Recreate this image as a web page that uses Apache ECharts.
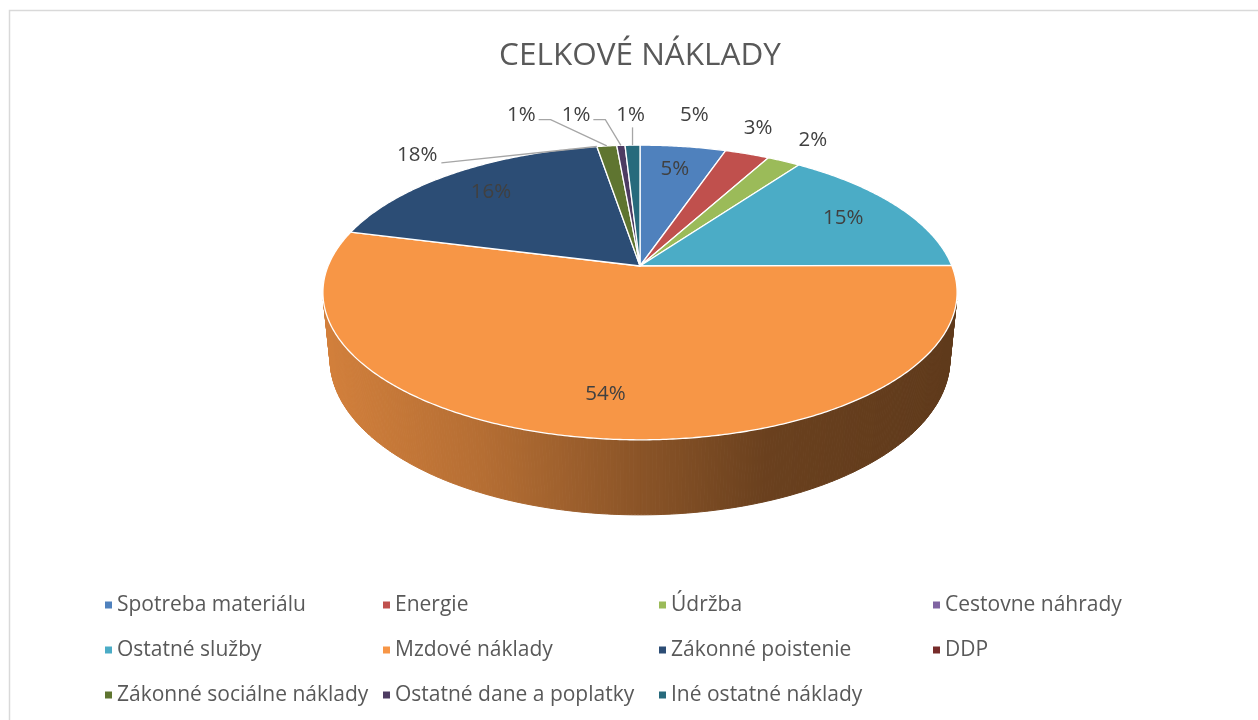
<!DOCTYPE html>
<html>
<head>
<meta charset="utf-8">
<script src="https://cdn.jsdelivr.net/npm/echarts@6/dist/echarts.min.js"></script>
<style>
html,body{margin:0;padding:0;background:#fff;}
#chart{width:1258px;height:720px;}
</style>
</head>
<body>
<div id="chart"></div>
<script>
// ---- data ----
const title = 'CELKOVÉ NÁKLADY';
const categories = ['Spotreba materiálu', 'Energie', 'Údržba', 'Cestovne náhrady', 'Ostatné služby',
  'Mzdové náklady', 'Zákonné poistenie', 'DDP', 'Zákonné sociálne náklady', 'Ostatné dane a poplatky', 'Iné ostatné náklady'];
const values = [5.2, 2.7, 2.0, 0, 15.0, 54.0, 18.4, 0, 1.2, 0.5, 0.9];
const insideLabels = ['5%', '', '', '', '15%', '54%', '16%', '', '', '', ''];
const outsideLabels = ['5%', '3%', '2%', '', '', '', '18%', '', '1%', '1%', '1%'];
const colors = ['#4F81BD', '#C0504D', '#9BBB59', '#8064A2', '#4BACC6', '#F79646',
  '#2C4D75', '#772C2A', '#5F7530', '#4D3B62', '#276A7C'];

// ---- 3D projection setup ----
const FONT = '"Open Sans", Lato, sans-serif';
const CX = 640, CY = 266, FOC = 1544, DIST = 4.95, THICK = 0.242;
const TILT = 27.2 * Math.PI / 180;
const S = Math.sin(TILT), C = Math.cos(TILT);
function proj(theta, yh, r) {
  const x = r * Math.sin(theta), z = r * Math.cos(theta);
  const yp = yh * C + z * S;
  const zp = z * C - yh * S + DIST;
  return [CX + FOC * x / zp, CY - FOC * yp / zp];
}
const total = values.reduce((a, b) => a + b, 0);
const startAngle = [];
let acc = 0;
values.forEach(v => { startAngle.push(acc / total * Math.PI * 2); acc += v; });
const endAngle = values.map((v, i) => startAngle[i] + v / total * Math.PI * 2);
const midAngle = values.map((v, i) => (startAngle[i] + endAngle[i]) / 2);

function hexToRgb(h) { return [parseInt(h.substr(1, 2), 16), parseInt(h.substr(3, 2), 16), parseInt(h.substr(5, 2), 16)]; }
function shadeK(u) {
  const pts = [[-1.05, 0.86], [-0.5, 0.73], [0, 0.56], [0.4, 0.43], [1.05, 0.38]];
  if (u <= pts[0][0]) return pts[0][1];
  for (let i = 1; i < pts.length; i++) {
    if (u <= pts[i][0]) {
      const t = (u - pts[i - 1][0]) / (pts[i][0] - pts[i - 1][0]);
      return pts[i - 1][1] + t * (pts[i][1] - pts[i - 1][1]);
    }
  }
  return pts[pts.length - 1][1];
}
function shade(hex, k) {
  const c = hexToRgb(hex).map(v => Math.round(v * k));
  return 'rgb(' + c.join(',') + ')';
}

// ---- label layout ----
const LBL_SIZE = 20.5, LBL_H = 22, GAP = 26;
const mctx = document.createElement('canvas').getContext('2d');
mctx.font = LBL_SIZE + 'px ' + FONT;
function textW(t) { return mctx.measureText(t).width; }

const outside = [];
outsideLabels.forEach((t, i) => {
  if (!t) return;
  const E = proj(midAngle[i], 0, 1);
  const dx = E[0] - CX, dy = E[1] - CY;
  const len = Math.sqrt(dx * dx + dy * dy);
  const ux = dx / len, uy = dy / len;
  const w = textW(t);
  const d = 18 + Math.abs(ux) * w / 2 + Math.abs(uy) * LBL_H / 2;
  outside.push({ i, t, w, x: E[0] + ux * d, y: E[1] + uy * d, E });
});
outside.sort((a, b) => a.x - b.x);
for (let j = outside.length - 2; j >= 0; j--) {
  const cur = outside[j], right = outside[j + 1];
  if (Math.abs(cur.y - right.y) < LBL_H) {
    const maxX = right.x - right.w / 2 - GAP - cur.w / 2;
    if (cur.x > maxX) cur.x = maxX;
  }
}
const outsideByIndex = {};
outside.forEach(o => { outsideByIndex[o.i] = o; });

// ---- render functions ----
function renderWall(params) {
  const i = params.dataIndex;
  if (!values[i]) return null;
  const a0 = startAngle[i], a1 = endAngle[i];
  const n = Math.max(2, Math.ceil((a1 - a0) / (Math.PI / 360)));
  const children = [];
  const limit = -1 / (DIST * C);
  for (let k = 0; k < n; k++) {
    const a = a0 + (a1 - a0) * k / n, b = a0 + (a1 - a0) * (k + 1) / n, m = (a + b) / 2;
    if (Math.cos(m) >= limit) continue;
    const pts = [proj(a, 0, 1), proj(b, 0, 1), proj(b, -THICK, 1), proj(a, -THICK, 1)];
    const u = (proj(m, 0, 1)[0] - CX) / 315;
    const col = shade(colors[i], shadeK(u));
    children.push({ type: 'polygon', shape: { points: pts }, style: { fill: col, stroke: col, lineWidth: 1 } });
  }
  return { type: 'group', children };
}
function renderTop(params) {
  const i = params.dataIndex;
  if (!values[i]) return null;
  const a0 = startAngle[i], a1 = endAngle[i];
  const n = Math.max(2, Math.ceil((a1 - a0) / (Math.PI / 360)));
  const pts = [proj(0, 0, 0)];
  for (let k = 0; k <= n; k++) pts.push(proj(a0 + (a1 - a0) * k / n, 0, 1));
  return { type: 'polygon', shape: { points: pts },
    style: { fill: colors[i], stroke: '#ffffff', lineWidth: 1.3, lineJoin: 'round' } };
}
function txt(x, y, t) {
  return { type: 'text', x, y, style: { text: t, fill: '#404040', fontSize: LBL_SIZE, fontFamily: FONT,
    align: 'center', verticalAlign: 'middle' } };
}
function renderLabels(params) {
  const i = params.dataIndex;
  const children = [];
  if (insideLabels[i]) {
    const p = proj(midAngle[i], 0, 0.78);
    children.push(txt(p[0], p[1], insideLabels[i]));
  }
  const o = outsideByIndex[i];
  if (o) {
    children.push(txt(o.x, o.y, o.t));
    const share = values[i] / total;
    let line = null;
    if (share < 0.015) {
      if (Math.abs(o.x - o.E[0]) < o.w / 2 + 2) {
        line = [[o.E[0], o.y + LBL_H / 2 + 1], o.E];
      } else if (o.x < o.E[0]) {
        line = [[o.x + o.w / 2 + 3, o.y + 5], [o.x + o.w / 2 + 15, o.y + 5], o.E];
      }
    } else {
      const P = proj(endAngle[i], 0, 1);
      const dd = Math.hypot(P[0] - o.x, P[1] - o.y);
      if (dd > 100) line = [[o.x + o.w / 2 + 4, o.y + 8], P];
    }
    if (line) children.push({ type: 'polyline', shape: { points: line },
      style: { stroke: '#A6A6A6', lineWidth: 1.3, fill: null } });
  }
  return { type: 'group', children };
}

// ---- legends (4 columns) ----
const legendCols = [100, 378, 654, 928];
const legends = legendCols.map((left, col) => ({
  orient: 'vertical', left: left, top: 589,
  data: categories.filter((c, i) => i % 4 === col),
  icon: 'rect', itemWidth: 7, itemHeight: 7, itemGap: 23,
  selectedMode: false,
  textStyle: { color: '#595959', fontSize: 21, fontFamily: FONT, lineHeight: 22, padding: [0, 0, 0, 0] }
}));

const idx = values.map((v, i) => i);
const chart = echarts.init(document.getElementById('chart'), null, { renderer: 'canvas' });
chart.setOption({
  animation: false,
  color: colors,
  legend: legends,
  graphic: [
    { type: 'rect', shape: { x: 9.5, y: 10.5, width: 1400, height: 900 },
      style: { fill: null, stroke: '#D9D9D9', lineWidth: 1.5 }, silent: true, z: 0 },
    { type: 'text', x: 640, y: 56, style: { text: title, fill: '#595959', fontSize: 31.5, fontFamily: FONT,
      align: 'center', verticalAlign: 'middle' }, silent: true }
  ],
  series: [
    { type: 'pie', name: 'legend', radius: [0, 0], center: [CX, CY], silent: true,
      label: { show: false }, labelLine: { show: false },
      data: categories.map((c, i) => ({ name: c, value: values[i], itemStyle: { color: colors[i] } })) },
    { type: 'custom', name: 'walls', coordinateSystem: 'none', z: 1, silent: true, renderItem: renderWall, data: idx },
    { type: 'custom', name: 'tops', coordinateSystem: 'none', z: 2, silent: true, renderItem: renderTop, data: idx },
    { type: 'custom', name: 'labels', coordinateSystem: 'none', z: 3, silent: true, renderItem: renderLabels, data: idx }
  ]
});
</script>
</body>
</html>
